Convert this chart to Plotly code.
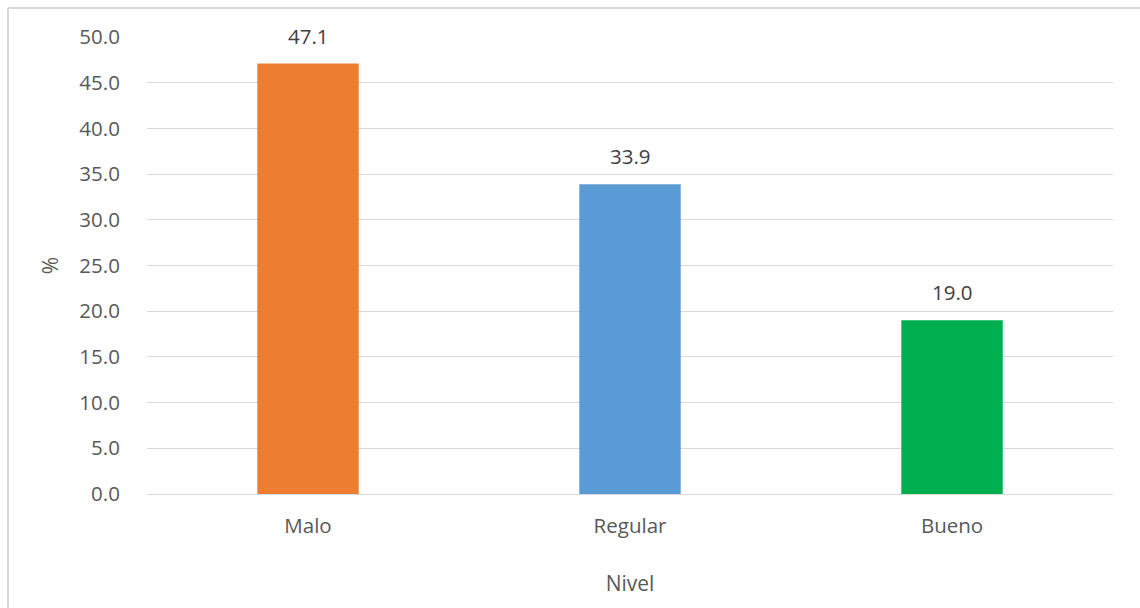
import plotly.graph_objects as go

# Distribución porcentual por nivel
niveles = ["Malo", "Regular", "Bueno"]
porcentajes = [47.1, 33.9, 19.0]
colores = ["#ED7D31", "#5B9BD5", "#00B050"]
y_ticks = [0, 5, 10, 15, 20, 25, 30, 35, 40, 45, 50]

W, H = 1140, 608
L, R, T, B = 147, 27, 37, 114
pw, ph = W - L - R, H - T - B

fig = go.Figure(
    go.Bar(
        x=niveles,
        y=porcentajes,
        marker=dict(color=colores, line=dict(width=0)),
        width=0.315,
        hoverinfo="x+y",
    )
)

# Value labels above each bar
for cat, val in zip(niveles, porcentajes):
    fig.add_annotation(
        x=cat, y=val, text=f"{val:.1f}",
        showarrow=False, yanchor="bottom", yshift=12,
        font=dict(size=20.5, color="#404040"),
    )

font_family = "Open Sans, Noto Sans, sans-serif"

fig.update_layout(
    width=W,
    height=H,
    margin=dict(l=L, r=R, t=T, b=B),
    paper_bgcolor="white",
    plot_bgcolor="white",
    font=dict(family=font_family, color="#595959", size=20.5),
    showlegend=False,
    bargap=0.685,
    xaxis=dict(
        title=dict(text="Nivel", font=dict(size=21, color="#595959"), standoff=38),
        showgrid=False,
        showline=False,
        zeroline=False,
        ticks="outside",
        ticklen=13,
        tickcolor="rgba(0,0,0,0)",
        tickfont=dict(size=20.5, color="#595959"),
    ),
    yaxis=dict(
        title=dict(text="%", font=dict(size=21, color="#595959"), standoff=14),
        range=[0, 50],
        tickvals=y_ticks,
        ticktext=[f"{v:.1f}" for v in y_ticks],
        showgrid=True,
        gridcolor="#D9D9D9",
        gridwidth=1.3,
        zeroline=True,
        zerolinecolor="#D9D9D9",
        zerolinewidth=1.3,
        showline=False,
        ticks="outside",
        ticklen=22,
        tickcolor="rgba(0,0,0,0)",
        tickfont=dict(size=20.5, color="#595959"),
    ),
)

# Chart-area frame (left and top edges visible)
bx = (8 - L) / pw
by = 1 + (T - 8) / ph
fig.add_shape(type="line", xref="paper", yref="paper",
              x0=bx, x1=bx, y0=by, y1=-1, line=dict(color="#D9D9D9", width=2))
fig.add_shape(type="line", xref="paper", yref="paper",
              x0=bx, x1=2, y0=by, y1=by, line=dict(color="#D9D9D9", width=2))

fig.write_html("out.html")
